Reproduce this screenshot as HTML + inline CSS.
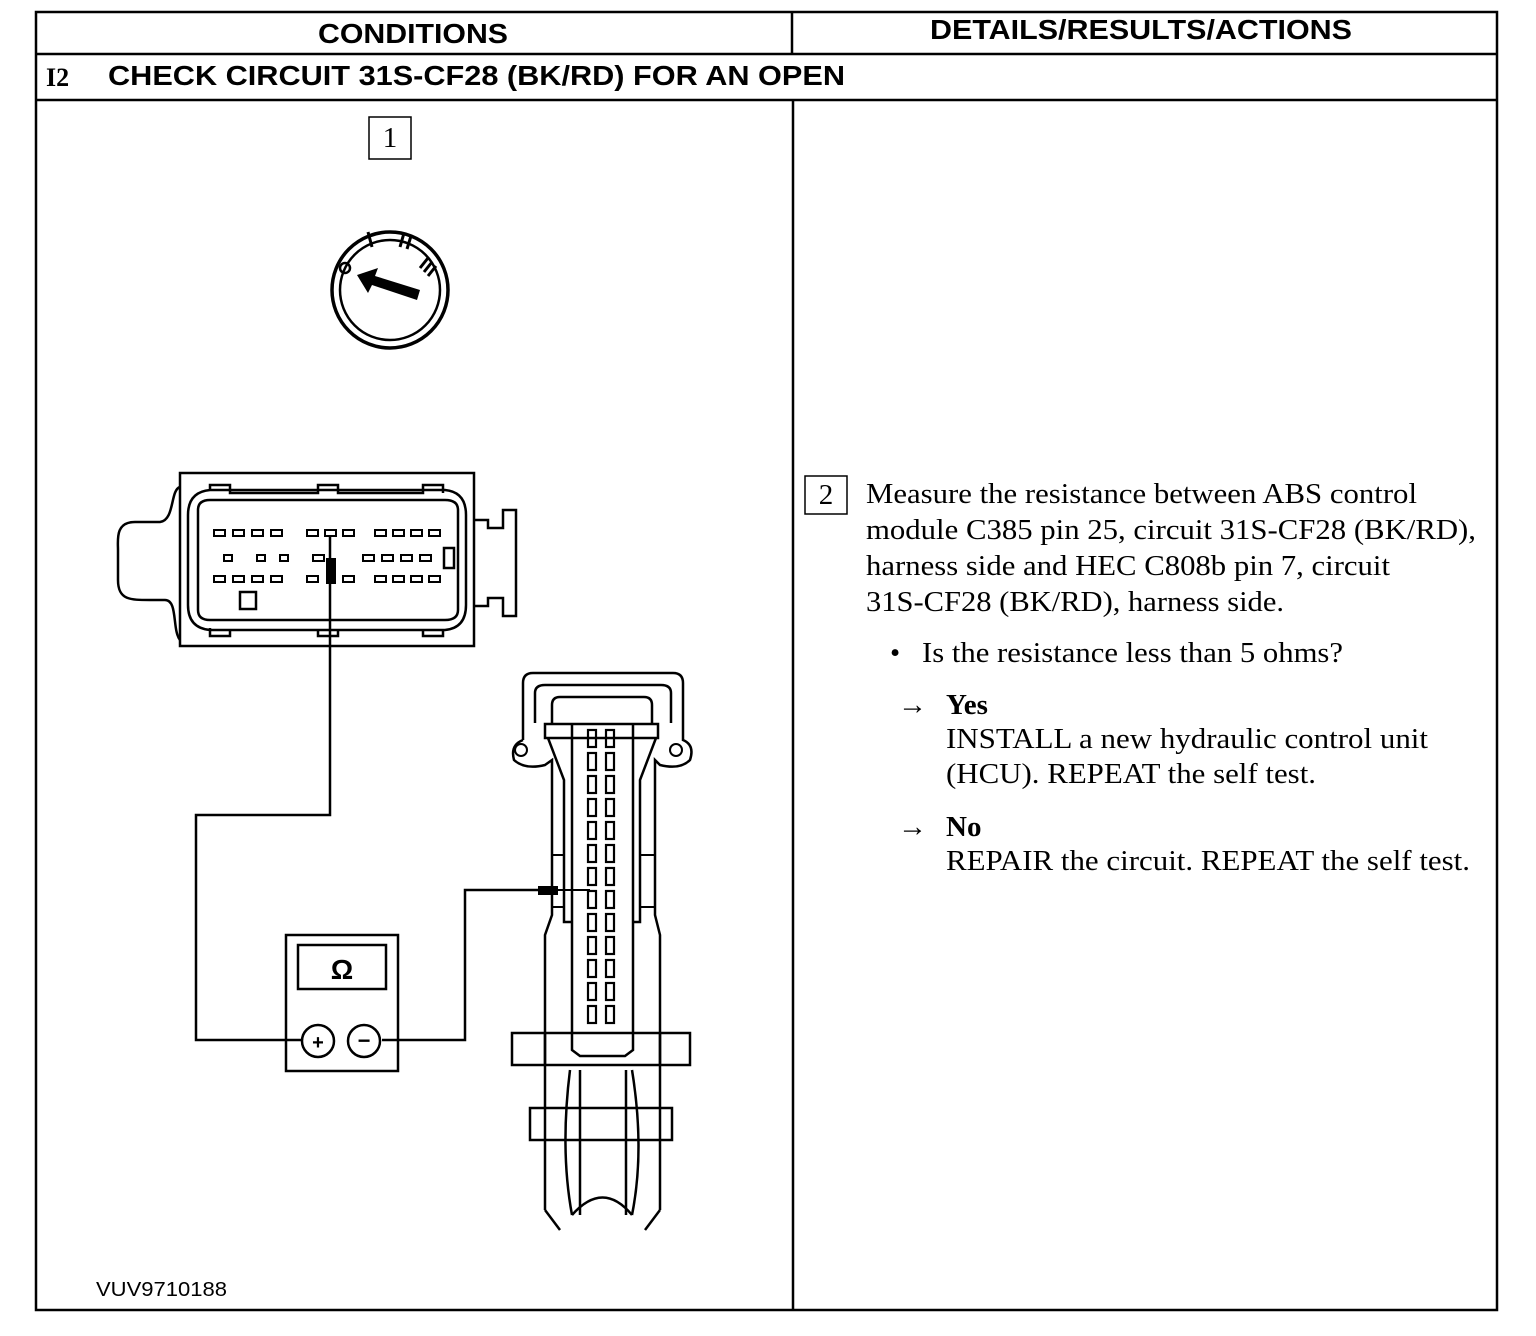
<!DOCTYPE html>
<html><head><meta charset="utf-8"><style>
body{margin:0;background:#fff}
svg{display:block}
.h{font-family:"Liberation Sans",sans-serif;font-weight:bold}
.t{font-family:"Liberation Serif",serif;font-size:29px}
</style></head><body>
<svg width="1536" height="1336" viewBox="0 0 1536 1336" xmlns="http://www.w3.org/2000/svg">
<g fill="none" stroke="#000" stroke-width="2.5">
<rect x="36" y="12" width="1461" height="1298"/>
<line x1="36" y1="54" x2="1497" y2="54"/>
<line x1="36" y1="100" x2="1497" y2="100"/>
<line x1="792" y1="12" x2="792" y2="54"/>
<line x1="793" y1="100" x2="793" y2="1310"/>
</g>
<text x="318" y="43" class="h" font-size="28" textLength="190" lengthAdjust="spacingAndGlyphs">CONDITIONS</text>
<text x="930" y="39" class="h" font-size="28" textLength="422" lengthAdjust="spacingAndGlyphs">DETAILS/RESULTS/ACTIONS</text>
<text x="46" y="86" font-family="Liberation Serif,serif" font-size="26" font-weight="bold">I2</text>
<text x="108" y="85" class="h" font-size="28" textLength="737" lengthAdjust="spacingAndGlyphs">CHECK CIRCUIT 31S-CF28 (BK/RD) FOR AN OPEN</text>
<text x="96" y="1296" font-family="Liberation Sans,sans-serif" font-size="20" textLength="131" lengthAdjust="spacingAndGlyphs">VUV9710188</text>

<rect x="369" y="117" width="42" height="42" fill="none" stroke="#000" stroke-width="1.5"/>
<text x="390" y="147" class="t" font-size="24" text-anchor="middle">1</text>
<rect x="805" y="476" width="42" height="38" fill="none" stroke="#000" stroke-width="1.5"/>
<text x="826" y="504" class="t" font-size="24" text-anchor="middle">2</text>

<g stroke="#000" fill="none">
<circle cx="390" cy="290" r="58" stroke-width="3.5"/>
<circle cx="390" cy="290" r="50" stroke-width="2.5"/>
<circle cx="345" cy="268" r="5" stroke-width="2.5"/>
<line x1="368" y1="232" x2="372" y2="247" stroke-width="3"/>
<line x1="404" y1="233" x2="400" y2="247" stroke-width="3"/>
<line x1="411" y1="236" x2="407" y2="249" stroke-width="3"/>
<line x1="428" y1="258" x2="420" y2="268" stroke-width="3"/>
<line x1="432" y1="262" x2="424" y2="272" stroke-width="3"/>
<line x1="436" y1="266" x2="428" y2="276" stroke-width="3"/>
</g>
<polygon points="357,275 378,268 375,276 420,290 417,300 372,285 368,293" fill="#000"/>

<g stroke="#000" fill="none" stroke-width="2.5">
<rect x="180" y="473" width="294" height="173"/>
<path d="M180,487 C170,490 175,520 160,522 L135,522 C115,522 118,540 118,550 L118,580 C118,600 130,600 150,600 L165,600 C178,600 172,630 180,640"/>
<path d="M210,490 Q188,492 188,515 L188,605 Q188,628 210,630 L445,630 Q466,628 466,605 L466,515 Q466,492 445,490 Z"/>
<path d="M198,510 Q198,500 210,500 L445,500 Q458,500 458,510 L458,610 Q458,620 445,620 L210,620 Q198,620 198,610 Z"/>
<path d="M210,490 L210,485 L230,485 L230,493 L318,493 L318,485 L338,485 L338,493 L423,493 L423,485 L443,485 L443,493"/>
<path d="M210,628 L210,636 L230,636 L230,630 M318,630 L318,636 L338,636 L338,630 M423,630 L423,636 L443,636 L443,630"/>
<path d="M474,520 L488,520 L488,528 L503,528 L503,510 L516,510 L516,616 L503,616 L503,598 L488,598 L488,606 L474,606"/>
<rect x="240" y="592" width="16" height="17"/>
<rect x="444" y="548" width="10" height="20"/>
</g>
<g fill="none" stroke="#000" stroke-width="2">
<rect x="214" y="530" width="11" height="6"/><rect x="233" y="530" width="11" height="6"/><rect x="252" y="530" width="11" height="6"/><rect x="271" y="530" width="11" height="6"/>
<rect x="307" y="530" width="11" height="6"/><rect x="325" y="530" width="11" height="6"/><rect x="343" y="530" width="11" height="6"/>
<rect x="375" y="530" width="11" height="6"/><rect x="393" y="530" width="11" height="6"/><rect x="411" y="530" width="11" height="6"/><rect x="429" y="530" width="11" height="6"/>
<rect x="224" y="555" width="8" height="6"/><rect x="257" y="555" width="8" height="6"/><rect x="280" y="555" width="8" height="6"/><rect x="313" y="555" width="11" height="6"/>
<rect x="363" y="555" width="11" height="6"/><rect x="382" y="555" width="11" height="6"/><rect x="401" y="555" width="11" height="6"/><rect x="420" y="555" width="11" height="6"/>
<rect x="214" y="576" width="11" height="6"/><rect x="233" y="576" width="11" height="6"/><rect x="252" y="576" width="11" height="6"/><rect x="271" y="576" width="11" height="6"/>
<rect x="307" y="576" width="11" height="6"/><rect x="343" y="576" width="11" height="6"/>
<rect x="375" y="576" width="11" height="6"/><rect x="393" y="576" width="11" height="6"/><rect x="411" y="576" width="11" height="6"/><rect x="429" y="576" width="11" height="6"/>
</g>
<rect x="326" y="558" width="10" height="26" fill="#000"/>

<g fill="none" stroke="#000" stroke-width="2.5">
<polyline points="330,535 330,815 196,815 196,1040 302,1040"/>
<polyline points="382,1040 465,1040 465,890 540,890"/>
</g>
<rect x="538" y="886" width="20" height="9" fill="#000"/>
<line x1="555" y1="890" x2="590" y2="890" stroke="#000" stroke-width="2"/>

<g fill="none" stroke="#000" stroke-width="2.5">
<rect x="286" y="935" width="112" height="136"/>
<rect x="298" y="945" width="88" height="44"/>
<circle cx="318" cy="1041" r="16"/>
<circle cx="364" cy="1041" r="16"/>
</g>
<text x="342" y="979" font-family="Liberation Sans,sans-serif" font-size="28" font-weight="bold" text-anchor="middle">Ω</text>
<text x="318" y="1049" font-family="Liberation Sans,sans-serif" font-size="20" font-weight="bold" text-anchor="middle">+</text>
<text x="364" y="1048" font-family="Liberation Sans,sans-serif" font-size="22" font-weight="bold" text-anchor="middle">−</text>

<g fill="none" stroke="#000" stroke-width="2.5">
<path d="M523,740 L523,683 Q523,673 533,673 L673,673 Q683,673 683,683 L683,740 Q695,745 690,760 Q680,770 660,765 L655,760 L655,915 L660,935 L660,1210 M523,740 Q510,745 514,760 Q525,770 545,765 L552,760 L552,915 L545,935 L545,1210"/>
<path d="M535,723 L535,693 Q535,685 545,685 L661,685 Q671,685 671,693 L671,723"/>
<path d="M552,723 L552,705 Q552,697 560,697 L644,697 Q652,697 652,705 L652,723"/>
<rect x="545" y="724" width="113" height="14"/>
<path d="M548,738 L564,780 L564,922 L572,922 M656,738 L640,780 L640,922 L632,922"/>
<path d="M572,724 L572,1050 L580,1056 L625,1056 L633,1050 L633,724"/>
<rect x="512" y="1033" width="178" height="32"/>
<line x1="545" y1="1065" x2="545" y2="1033"/><line x1="660" y1="1065" x2="660" y2="1033"/>
<rect x="530" y="1108" width="142" height="32"/>
<path d="M570,1070 Q560,1150 572,1215 M632,1070 Q645,1150 632,1215"/>
<path d="M580,1070 L580,1215 M626,1070 L626,1215"/>
<path d="M545,1210 L560,1230 M660,1210 L645,1230 M572,1215 Q603,1180 632,1215"/>
<rect x="552" y="855" width="12" height="52" stroke-width="2"/>
<rect x="640" y="855" width="15" height="52" stroke-width="2"/>
</g>
<g fill="none" stroke="#000" stroke-width="2">
<circle cx="521" cy="750" r="6"/><circle cx="676" cy="750" r="6"/>
</g>
<g fill="none" stroke="#000" stroke-width="2.2">
<rect x="588" y="730" width="8" height="17"/><rect x="606" y="730" width="8" height="17"/>
<rect x="588" y="753" width="8" height="17"/><rect x="606" y="753" width="8" height="17"/>
<rect x="588" y="776" width="8" height="17"/><rect x="606" y="776" width="8" height="17"/>
<rect x="588" y="799" width="8" height="17"/><rect x="606" y="799" width="8" height="17"/>
<rect x="588" y="822" width="8" height="17"/><rect x="606" y="822" width="8" height="17"/>
<rect x="588" y="845" width="8" height="17"/><rect x="606" y="845" width="8" height="17"/>
<rect x="588" y="868" width="8" height="17"/><rect x="606" y="868" width="8" height="17"/>
<rect x="588" y="891" width="8" height="17"/><rect x="606" y="891" width="8" height="17"/>
<rect x="588" y="914" width="8" height="17"/><rect x="606" y="914" width="8" height="17"/>
<rect x="588" y="937" width="8" height="17"/><rect x="606" y="937" width="8" height="17"/>
<rect x="588" y="960" width="8" height="17"/><rect x="606" y="960" width="8" height="17"/>
<rect x="588" y="983" width="8" height="17"/><rect x="606" y="983" width="8" height="17"/>
<rect x="588" y="1006" width="8" height="17"/><rect x="606" y="1006" width="8" height="17"/>
</g>

<g class="t">
<text x="866" y="503" textLength="551" lengthAdjust="spacingAndGlyphs">Measure the resistance between ABS control</text>
<text x="866" y="539" textLength="610" lengthAdjust="spacingAndGlyphs">module C385 pin 25, circuit 31S-CF28 (BK/RD),</text>
<text x="866" y="575" textLength="524" lengthAdjust="spacingAndGlyphs">harness side and HEC C808b pin 7, circuit</text>
<text x="866" y="611" textLength="418" lengthAdjust="spacingAndGlyphs">31S-CF28 (BK/RD), harness side.</text>
<text x="890" y="662">•</text>
<text x="922" y="662" textLength="421" lengthAdjust="spacingAndGlyphs">Is the resistance less than 5 ohms?</text>
<text x="898" y="714">→</text>
<text x="946" y="714" font-weight="bold">Yes</text>
<text x="946" y="748" textLength="482" lengthAdjust="spacingAndGlyphs">INSTALL a new hydraulic control unit</text>
<text x="946" y="783" textLength="370" lengthAdjust="spacingAndGlyphs">(HCU). REPEAT the self test.</text>
<text x="898" y="836">→</text>
<text x="946" y="836" font-weight="bold">No</text>
<text x="946" y="870" textLength="524" lengthAdjust="spacingAndGlyphs">REPAIR the circuit. REPEAT the self test.</text>
</g>
</svg>
</body></html>
